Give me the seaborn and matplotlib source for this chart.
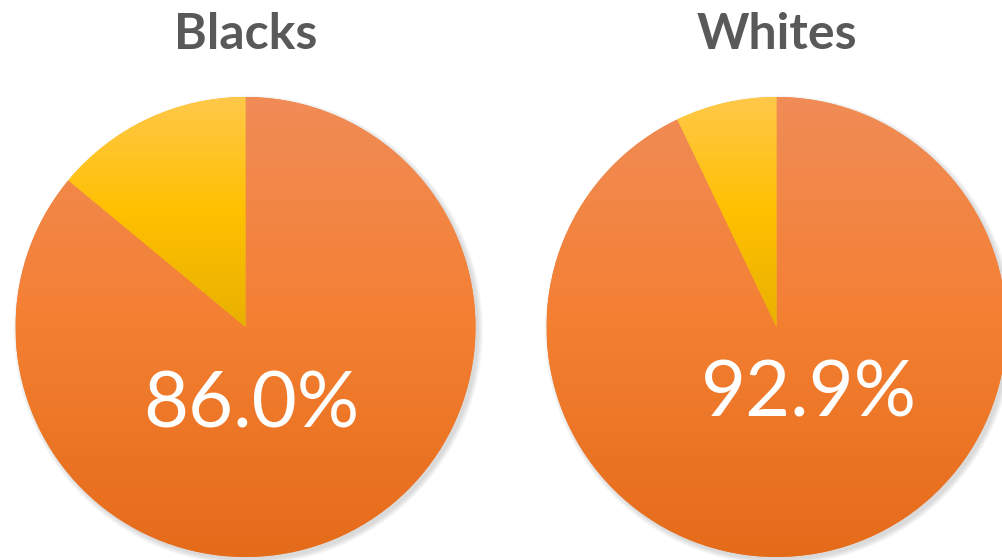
import numpy as np
import matplotlib
matplotlib.use("Agg")
import matplotlib.pyplot as plt
import seaborn as sns
from matplotlib.colors import LinearSegmentedColormap
from matplotlib.patches import Circle

# ---- data ----
groups = ["Blacks", "Whites"]
share_main = [86.0, 92.9]
share_rest = [14.0, 7.1]

# ---- style ----
sns.set_theme(style="white")
plt.rcParams['font.family'] = ['Lato', 'DejaVu Sans']

W, H = 1002, 560
R = 230
centers_px = [(245.5, 327), (776.5, 327)]
label_pos = [(0.026, -0.435), (0.141, -0.391)]
title_baseline_px = 49

orange_cmap = LinearSegmentedColormap.from_list("o", ["#F08C57", "#F47F31", "#E46B1A"])
yellow_cmap = LinearSegmentedColormap.from_list("y", ["#FFC84A", "#FFC000", "#E8B000"])

fig = plt.figure(figsize=(W / 100, H / 100), dpi=100)
fig.patch.set_facecolor("white")

for i, g in enumerate(groups):
    cx, cy = centers_px[i]
    ax = fig.add_axes([(cx - R) / W, (H - cy - R) / H, 2 * R / W, 2 * R / H])
    # soft shadow
    for k in range(6):
        ax.add_patch(Circle((0.012, -0.014), 1.0 + 0.004 * k, color="#7f7f7f",
                            alpha=0.05, lw=0, zorder=0, clip_on=False))
    wedges, _ = ax.pie([share_main[i], share_rest[i]], startangle=90, counterclock=False,
                       radius=1, wedgeprops=dict(linewidth=0))
    for w, cmap in zip(wedges, [orange_cmap, yellow_cmap]):
        w.set_facecolor(cmap(0.5))
        w.set_zorder(1)
        bb = w.get_path().get_extents()
        grad = np.linspace(0, 1, 256).reshape(-1, 1)
        im = ax.imshow(grad, cmap=cmap, extent=(bb.x0, bb.x1, bb.y0, bb.y1),
                       aspect="auto", origin="upper", zorder=1.5, interpolation="bilinear")
        im.set_clip_path(w)
    ax.text(label_pos[i][0], label_pos[i][1], f"{share_main[i]:.1f}%", ha="center",
            va="baseline", color="white", fontsize=56, zorder=5)
    ax.set_xlim(-1, 1)
    ax.set_ylim(-1, 1)
    ax.set_aspect("equal")
    ax.axis("off")
    fig.text(cx / W, 1 - title_baseline_px / H, g, ha="center", va="baseline",
             fontsize=36, fontweight="bold", color="#595959")

fig.savefig("out.png", dpi=100, facecolor="white")
